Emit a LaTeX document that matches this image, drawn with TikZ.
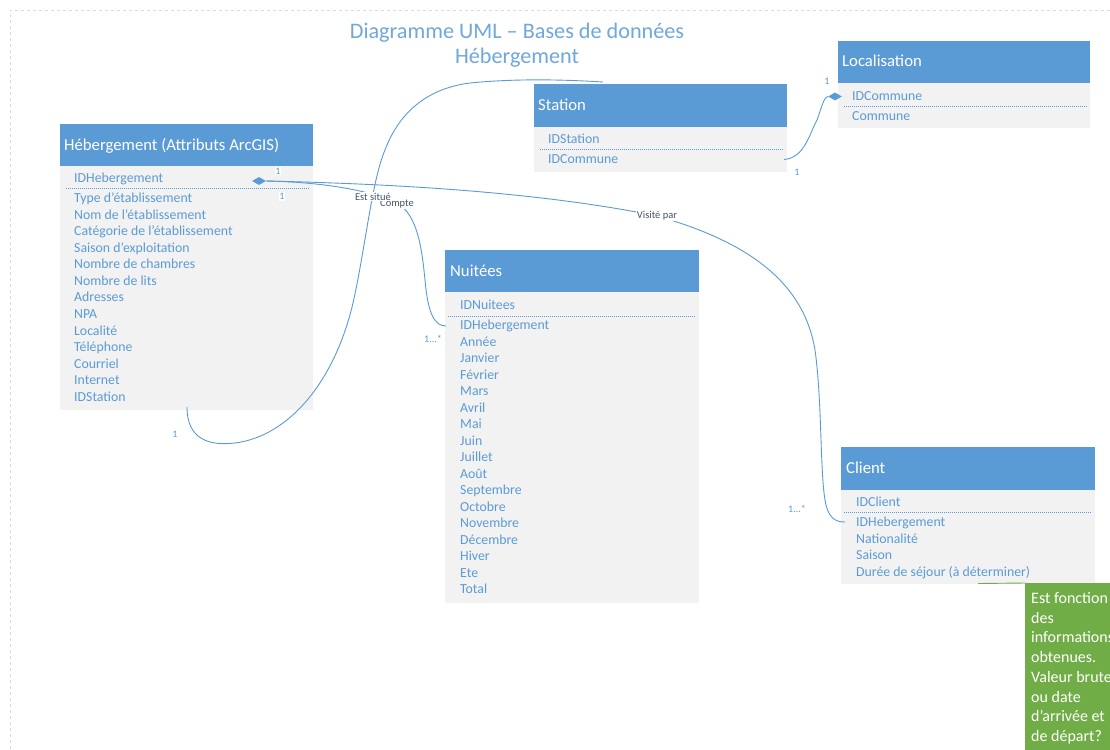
\documentclass[tikz,border=0pt]{standalone}
\usepackage{fontspec}
\setmainfont{Carlito}
\usetikzlibrary{shapes.geometric}
\definecolor{hdrblue}{HTML}{5B9BD5}
\definecolor{rowblue}{HTML}{5B9BD5}
\definecolor{bodygray}{HTML}{F2F2F2}
\definecolor{lineblue}{HTML}{5B9BD5}
\definecolor{labdark}{HTML}{44546A}
\definecolor{notegreen}{HTML}{70AD47}
\definecolor{titleblue}{HTML}{6FA8DC}
\definecolor{pagegray}{HTML}{D9D9D9}
\begin{document}
\begin{tikzpicture}[x=1pt,y=-1pt,
  hdr/.style={fill=hdrblue, draw=none, anchor=north west, inner sep=0, outer sep=0},
  bodybox/.style={fill=bodygray, draw=none, anchor=north west, inner sep=0, outer sep=0},
  hdrtext/.style={anchor=base west, text=white, font=\fontsize{16.7}{19}\selectfont, inner sep=0},
  row/.style={anchor=base west, text=rowblue, font=\fontsize{13.8}{16}\selectfont, inner sep=0},
  sepline/.style={draw=rowblue, line width=0.7pt, dash pattern=on 1pt off 1pt},
  conn/.style={draw=lineblue, line width=0.9pt},
  assoc/.style={text=labdark, fill=white, font=\fontsize{10.5}{12}\selectfont, inner sep=0.8pt},
  mult/.style={text=rowblue, fill=white, font=\fontsize{10}{12}\selectfont, inner sep=0.8pt},
  diam/.style={diamond, fill=lineblue, inner sep=0, minimum width=14pt, minimum height=8pt},
  notetext/.style={anchor=base west, text=white, font=\fontsize{16}{19}\selectfont, inner sep=0},
  titletext/.style={anchor=base, text=titleblue, font=\fontsize{22.2}{25}\selectfont, inner sep=0},
]
\useasboundingbox (0,0) rectangle (1110,749);
\clip (0,0) rectangle (1110,749);
\fill[white] (0,0) rectangle (1110,749);
% page border
\draw[pagegray, dashed, line width=0.6pt] (10,749) -- (10,10) -- (1110,10);

% title
\node[titletext] (title1) at (517,38.5) {Diagramme UML – Bases de données};
\node[titletext] (title2) at (517,63.5) {Hébergement};

% ---------- Hebergement ----------
\node[hdr, minimum width=253pt, minimum height=42pt] (hebH) at (60,124) {};
\node[bodybox, minimum width=253pt, minimum height=244pt] (hebB) at (60,166) {};
\node[hdrtext] (hebT) at (64,150.5) {Hébergement (Attributs ArcGIS)};
\node[row] (hebID) at (74,182.5) {IDHebergement};
\draw[sepline] (66,188.5) -- (309,188.5);
\foreach \t [count=\i] in {Type d'établissement, Nom de l'établissement, Catégorie de l'établissement, Saison d'exploitation, Nombre de chambres, Nombre de lits, Adresses, NPA, Localité, Téléphone, Courriel, Internet, IDStation}
  \node[row] (heb\i) at (74,{202.6+16.55*(\i-1)}) {\t};

% ---------- Station ----------
\node[hdr, minimum width=253pt, minimum height=43pt] (staH) at (534,84) {};
\node[bodybox, minimum width=253pt, minimum height=45pt] (staB) at (534,127) {};
\node[hdrtext] (staT) at (538,110.5) {Station};
\node[row] (staID) at (548,143.6) {IDStation};
\draw[sepline] (540,149.5) -- (783,149.5);
\node[row] (staCom) at (548,163.6) {IDCommune};

% ---------- Localisation ----------
\node[hdr, minimum width=252pt, minimum height=42pt] (locH) at (838,41) {};
\node[bodybox, minimum width=252pt, minimum height=45pt] (locB) at (838,83) {};
\node[hdrtext] (locT) at (842,66.5) {Localisation};
\node[row] (locID) at (852,100.6) {IDCommune};
\draw[sepline] (844,106.5) -- (1087,106.5);
\node[row] (locCom) at (852,120.6) {Commune};

% ---------- Nuitees ----------
\node[hdr, minimum width=254pt, minimum height=42pt] (nuiH) at (445,250) {};
\node[bodybox, minimum width=254pt, minimum height=311pt] (nuiB) at (445,292) {};
\node[hdrtext] (nuiT) at (450,276.5) {Nuitées};
\node[row] (nuiID) at (460,309.6) {IDNuitees};
\draw[sepline] (448,316) -- (695,316);
\foreach \t [count=\i] in {IDHebergement, Année, Janvier, Février, Mars, Avril, Mai, Juin, Juillet, Août, Septembre, Octobre, Novembre, Décembre, Hiver, Ete, Total}
  \node[row] (nui\i) at (460,{329.6+16.5*(\i-1)}) {\t};

% ---------- Client ----------
\node[hdr, minimum width=254pt, minimum height=43pt] (cliH) at (841,447) {};
\node[bodybox, minimum width=254pt, minimum height=94pt] (cliB) at (841,490) {};
\node[hdrtext] (cliT) at (846,473.5) {Client};
\node[row] (cliID) at (856,506.6) {IDClient};
\draw[sepline] (844,512.5) -- (1091,512.5);
\foreach \t [count=\i] in {IDHebergement, Nationalité, Saison, Durée de séjour (à déterminer)}
  \node[row] (cli\i) at (856,{526.6+16.5*(\i-1)}) {\t};

% ---------- Note ----------
\node[fill=notegreen, anchor=north west, inner sep=0, minimum width=100pt, minimum height=180pt] (note) at (1025,583) {};
\foreach \t [count=\i] in {Est fonction, des, informations, obtenues., Valeur brute, ou date, d'arrivée et, de départ?}
  \node[notetext] (note\i) at (1031,{603.5+19.7*(\i-1)}) {\t};
\coordinate (dureeEnd) at (978,583.5);
\draw[notegreen, line width=0.9pt] (dureeEnd) -- (note.north west);

% ---------- Connectors ----------
\coordinate (hebBottom) at (187,407);
\coordinate (staTop) at (603,82);
\coordinate (nuiIn) at (446,326);
\coordinate (cliIn) at (845,522);
\coordinate (staOut) at (784,159.5);

\node[diam] (hebDiam) at (259,181) {};
\node[diam] (locDiam) at (835,96.5) {};

% Est situe
\draw[conn] (hebBottom) .. controls (187,440) and (210,446) .. (235,443)
  .. controls (290,436) and (335,380) .. (353,303)
  .. controls (365,250) and (372,180) .. (385,150)
  .. controls (400,110) and (430,88) .. (470,83)
  .. controls (520,78) and (570,80) .. (staTop);
% Compte
\draw[conn] (hebDiam.east) .. controls (320,182) and (370,190) .. (397,203)
  .. controls (418,215) and (422,250) .. (425,280)
  .. controls (428,315) and (435,326) .. (nuiIn);
% Visite par
\draw[conn] (hebDiam.east) .. controls (350,183) and (520,188) .. (657,216)
  .. controls (760,245) and (805,290) .. (815,350)
  .. controls (822,400) and (820,470) .. (825,500)
  .. controls (828,518) and (835,522) .. (cliIn);
% Station - Localisation
\draw[conn] (staOut) .. controls (805,158) and (810,132) .. (817,120)
  .. controls (822,106) and (824,97) .. (locDiam.west);

% association labels
\node[assoc] (lblCompte) at (397,203.5) {Compte};
\node[assoc] (lblSitue) at (373,196.5) {Est situé};
\node[assoc] (lblVisite) at (657,216) {Visité par};

% multiplicities
\node[mult] (m1) at (278,171) {1};
\node[mult] (m2) at (282,196.5) {1};
\node[mult] (m3) at (175,434) {1};
\node[mult] (m4) at (433,339) {1...*};
\node[mult] (m5) at (797,509) {1...*};
\node[mult] (m6) at (797,172.5) {1};
\node[mult] (m7) at (827,81) {1};
\end{tikzpicture}
\end{document}
